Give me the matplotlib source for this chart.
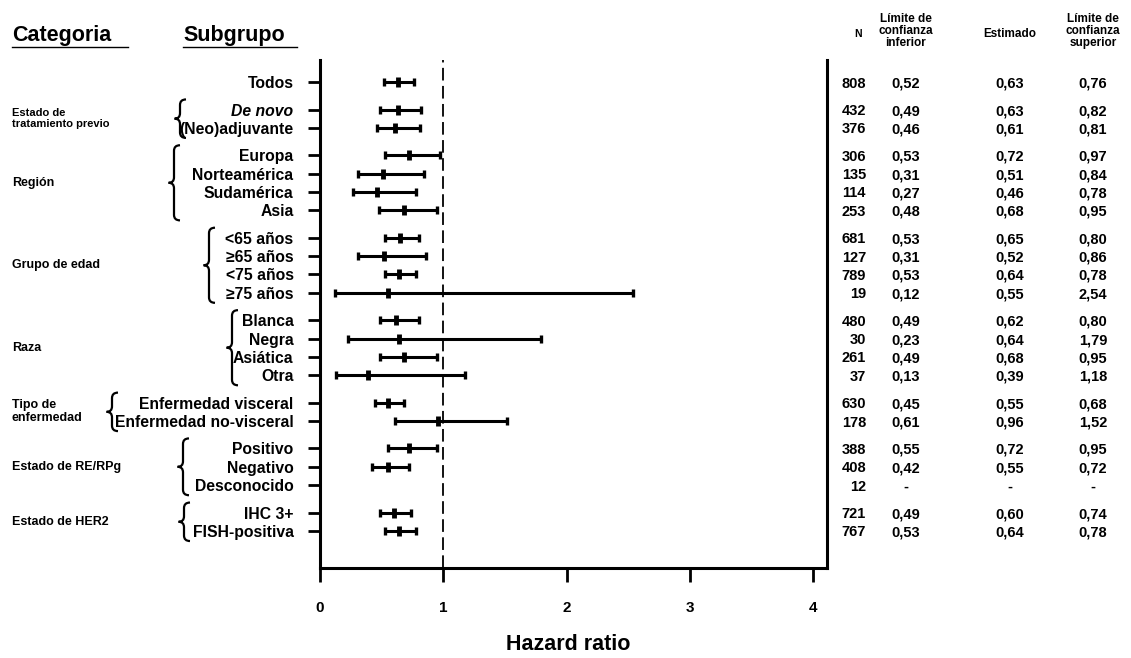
import matplotlib
matplotlib.use("Agg")
import matplotlib.pyplot as plt
from matplotlib.path import Path
from matplotlib.patches import PathPatch
import numpy as np

plt.rcParams['font.family'] = ['Liberation Sans', 'DejaVu Sans']
plt.rcParams['font.weight'] = 'bold'

# ---------------- data ----------------
subgroups = ["Todos", "De novo", "(Neo)adjuvante",
             "Europa", "Norteamérica", "Sudamérica", "Asia",
             "<65 años", "≥65 años", "<75 años", "≥75 años",
             "Blanca", "Negra", "Asiática", "Otra",
             "Enfermedad visceral", "Enfermedad no-visceral",
             "Positivo", "Negativo", "Desconocido",
             "IHC 3+", "FISH-positiva"]
group_sizes = [1, 2, 4, 4, 4, 2, 3, 2]
categories = ["", "Estado de\ntratamiento previo", "Región", "Grupo de edad",
              "Raza", "Tipo de\nenfermedad", "Estado de RE/RPg", "Estado de HER2"]
n_values = [808, 432, 376, 306, 135, 114, 253, 681, 127, 789, 19,
            480, 30, 261, 37, 630, 178, 388, 408, 12, 721, 767]
lower = [0.52, 0.49, 0.46, 0.53, 0.31, 0.27, 0.48, 0.53, 0.31, 0.53, 0.12,
         0.49, 0.23, 0.49, 0.13, 0.45, 0.61, 0.55, 0.42, None, 0.49, 0.53]
estimate = [0.63, 0.63, 0.61, 0.72, 0.51, 0.46, 0.68, 0.65, 0.52, 0.64, 0.55,
            0.62, 0.64, 0.68, 0.39, 0.55, 0.96, 0.72, 0.55, None, 0.60, 0.64]
upper = [0.76, 0.82, 0.81, 0.97, 0.84, 0.78, 0.95, 0.80, 0.86, 0.78, 2.54,
         0.80, 1.79, 0.95, 1.18, 0.68, 1.52, 0.95, 0.72, None, 0.74, 0.78]
x_ticks = [0, 1, 2, 3, 4]
x_label = "Hazard ratio"
col_headers = ["N", "Límite de\nconfianza\ninferior", "Estimado", "Límite de\nconfianza\nsuperior"]

# ---------------- layout ----------------
W, H = 1131, 658
fig = plt.figure(figsize=(W / 100, H / 100), dpi=100)

def fx(px):
    return px / W

def fy(py):
    return 1 - py / H

ax_left, ax_right, ax_top, ax_bot = 320, 827, 60, 568
ax = fig.add_axes([fx(ax_left), fy(ax_bot), fx(ax_right) - fx(ax_left), fy(ax_top) - fy(ax_bot)])

# row positions (1 unit within a group, 1.5 between groups)
ypos = []
y = 0.0
for gi, g in enumerate(group_sizes):
    for k in range(g):
        ypos.append(y)
        y += 1.0
    y += 0.5
ypos = np.array(ypos)

unit_px = 18.3
ax.set_ylim(ypos[-1] + (ax_bot - 531) / unit_px, -(82 - ax_top) / unit_px)
ax.set_xlim(0, (ax_right - ax_left) / 123.25)

# CI lines
for yi, lo, es, up in zip(ypos, lower, estimate, upper):
    if lo is None:
        continue
    ax.plot([lo, up], [yi, yi], color='black', lw=2.2, solid_capstyle='butt', zorder=3)
    ax.plot([lo, up], [yi, yi], linestyle='none', marker='|', markersize=6,
            markeredgewidth=2.4, color='black', zorder=3)
    ax.plot([es], [yi], linestyle='none', marker='|', markersize=7,
            markeredgewidth=3.5, color='black', zorder=4)

ax.axvline(1, color='black', lw=1.3, linestyle=(0, (7, 3)), zorder=2)

# spines / ticks
for s in ['left', 'bottom', 'right']:
    ax.spines[s].set_linewidth(2.2)
ax.spines['top'].set_visible(False)
ax.set_yticks(ypos)
ax.set_yticklabels(subgroups, fontsize=11.3, fontweight='bold')
for lbl, txt in zip(ax.get_yticklabels(), subgroups):
    if txt == "De novo":
        lbl.set_style('italic')
ax.tick_params(axis='y', direction='out', length=9, width=2, pad=10)
ax.set_xticks(x_ticks)
ax.set_xticklabels([str(t) for t in x_ticks], fontsize=11, fontweight='bold')
ax.tick_params(axis='x', direction='out', length=10, width=2, pad=14)
ax.set_xlabel(x_label, fontsize=15.5, fontweight='bold')
ax.xaxis.set_label_coords((568 - ax_left) / (ax_right - ax_left), -0.13)

# headers
fig.text(fx(12), fy(36), "Categoria", fontsize=15.5, fontweight='bold', va='center', ha='left')
fig.text(fx(183), fy(36), "Subgrupo", fontsize=15.5, fontweight='bold', va='center', ha='left')
fig.add_artist(plt.Line2D([fx(12), fx(128)], [fy(47), fy(47)], color='black', lw=1))
fig.add_artist(plt.Line2D([fx(183), fx(297)], [fy(47), fy(47)], color='black', lw=1))

col_x = [866, 906, 1010, 1093]
fig.text(fx(858), fy(34), col_headers[0], fontsize=7.5, fontweight='bold', ha='center', va='center')
fig.text(fx(col_x[1]), fy(31), col_headers[1], fontsize=8.5, fontweight='bold', ha='center', va='center', linespacing=0.95)
fig.text(fx(col_x[2]), fy(34), col_headers[2], fontsize=8.5, fontweight='bold', ha='center', va='center')
fig.text(fx(col_x[3]), fy(31), col_headers[3], fontsize=8.5, fontweight='bold', ha='center', va='center', linespacing=0.95)

# value columns (aligned with rows through the axes transform)
trans = ax.get_yaxis_transform()
def xa(px):
    return (px - ax_left) / (ax_right - ax_left)

def fmt(v):
    return "-" if v is None else f"{v:.2f}".replace(".", ",")

for yi, n, lo, es, up in zip(ypos, n_values, lower, estimate, upper):
    ax.text(xa(col_x[0]), yi, str(n), transform=trans, ha='right', va='center_baseline',
            fontsize=10.5, fontweight='bold', clip_on=False)
    for cx, v in zip(col_x[1:], [lo, es, up]):
        ax.text(xa(cx), yi, fmt(v), transform=trans, ha='center', va='center_baseline',
                fontsize=10.5, fontweight='bold', clip_on=False)

# category labels and braces
brace_x = {1: 180, 2: 174, 3: 209, 4: 232, 5: 112, 6: 183, 7: 184}
start = 0
for gi, g in enumerate(group_sizes):
    rows = ypos[start:start + g]
    start += g
    if gi == 0:
        continue
    ymid = rows.mean()
    fs = 8 if gi == 1 else 9
    ax.text(xa(12), ymid, categories[gi], transform=trans, ha='left', va='center',
            fontsize=fs, fontweight='bold', clip_on=False, linespacing=1.1)
    # brace
    y0 = rows[0] - 0.55
    y1 = rows[-1] + 0.55
    ym = (y0 + y1) / 2
    bx = xa(brace_x[gi])
    d = xa(brace_x[gi] + 6) - bx
    verts = [(bx + d, y0), (bx, y0), (bx, y0 + 0.3),
             (bx, ym - 0.3), (bx, ym), (bx - d * 0.9, ym),
             (bx, ym), (bx, ym + 0.3),
             (bx, y1 - 0.3), (bx, y1), (bx + d, y1)]
    codes = [Path.MOVETO, Path.CURVE3, Path.CURVE3,
             Path.LINETO, Path.CURVE3, Path.CURVE3,
             Path.CURVE3, Path.CURVE3,
             Path.LINETO, Path.CURVE3, Path.CURVE3]
    patch = PathPatch(Path(verts, codes), transform=trans, fill=False, lw=1.6,
                      edgecolor='black', clip_on=False)
    ax.add_patch(patch)

fig.savefig("out.png", dpi=100)
